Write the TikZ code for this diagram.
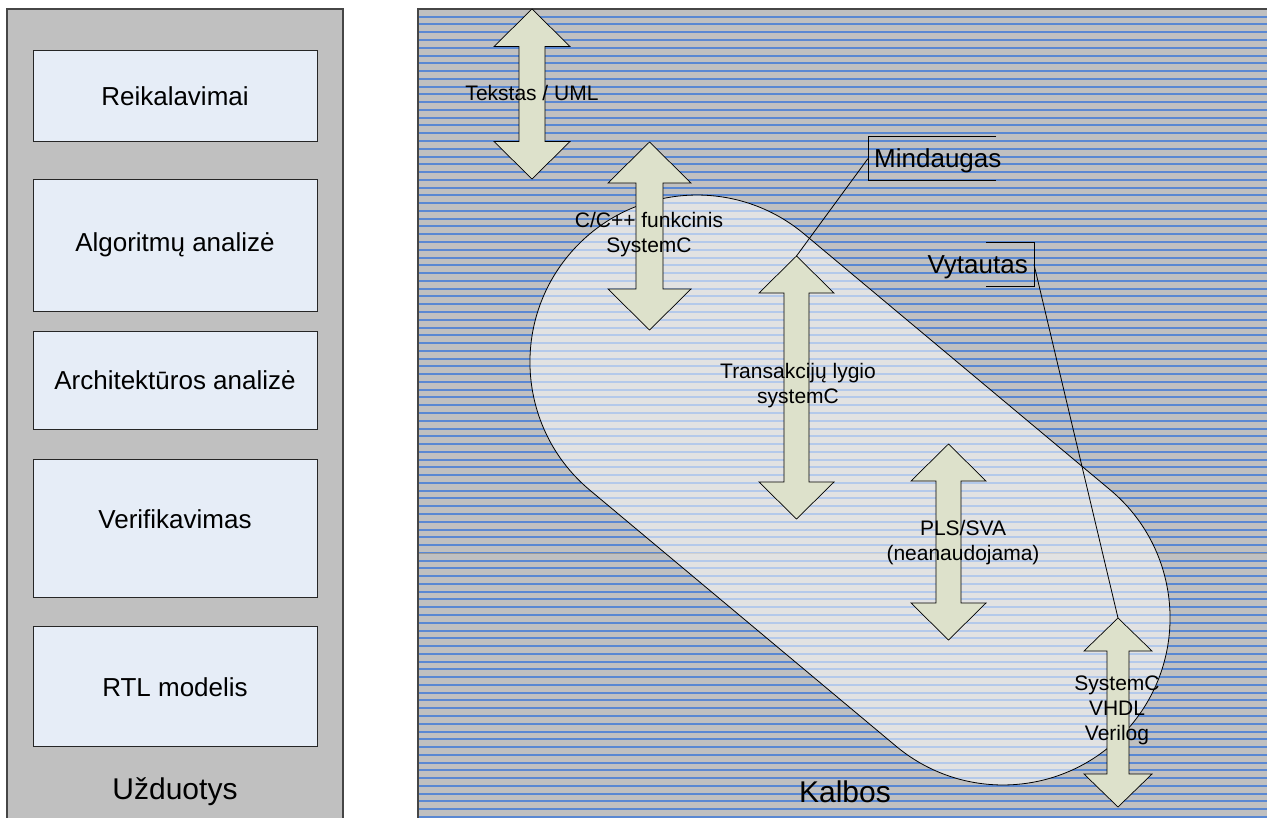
\documentclass[tikz,border=0pt]{standalone}
\usepackage{fontspec}
\setmainfont{Liberation Sans}
\definecolor{panelgrey}{RGB}{192,192,192}
\definecolor{taskblue}{RGB}{230,237,247}
\definecolor{stripeblue}{RGB}{90,136,210}
\definecolor{arrowfill}{RGB}{221,225,203}
\definecolor{edgegrey}{RGB}{70,70,70}
\newcommand\dblarrow[7]{% centre x, top, bottom, head half-width, shaft half-width, head length, name
  \draw[arrowshape] (#1,#2) -- (#1+#4,#2+#6) -- (#1+#5,#2+#6) -- (#1+#5,#3-#6)
    -- (#1+#4,#3-#6) -- (#1,#3) -- (#1-#4,#3-#6) -- (#1-#5,#3-#6)
    -- (#1-#5,#2+#6) -- (#1-#4,#2+#6) -- cycle;
  \coordinate (#7-top) at (#1,#2);
  \coordinate (#7-bot) at (#1,#3);
}
\begin{document}
\begin{tikzpicture}[x=1pt,y=-1pt,
  panel/.style={draw=edgegrey, line width=1.2pt, fill=panelgrey},
  taskbox/.style={draw=black!85, line width=0.8pt, fill=taskblue, minimum width=284pt, inner sep=0pt},
  tasktext/.style={font=\fontsize{26}{31}\selectfont, inner sep=0pt},
  titletext/.style={font=\fontsize{30}{36}\selectfont, inner sep=0pt},
  stripe/.style={draw=stripeblue, line width=2pt},
  capsule/.style={draw=black, line width=0.8pt, fill=white, fill opacity=0.55},
  arrowshape/.style={draw=black, line width=0.7pt, fill=arrowfill},
  lbl/.style={font=\fontsize{21}{25}\selectfont, align=center, inner sep=0pt},
  calltext/.style={font=\fontsize{26}{30}\selectfont, inner xsep=6pt, inner ysep=0pt,
    minimum height=43pt, text height=18.6pt, text depth=0pt},
  callline/.style={draw=black, line width=0.8pt},
]
\useasboundingbox (0,0) rectangle (1267,817);
\fill[white] (0,0) rectangle (1267,817);
\clip (0,0) rectangle (1267,817);

% left column: tasks
\draw[panel] (7,9) rectangle (343,830);
\node[taskbox, minimum height=91pt]  (b1) at (175,95.5) {};
\node[taskbox, minimum height=132pt] (b2) at (175,245) {};
\node[taskbox, minimum height=98pt]  (b3) at (175,380) {};
\node[taskbox, minimum height=138pt] (b4) at (175,528) {};
\node[taskbox, minimum height=120pt] (b5) at (175,686) {};
\node[tasktext] (t1) at (175,96)  {Reikalavimai};
\node[tasktext] (t2) at (175,245) {Algoritmų analizė};
\node[tasktext] (t3) at (175,380) {Architektūros analizė};
\node[tasktext] (t4) at (175,519) {Verifikavimas};
\node[tasktext] (t5) at (175,687) {RTL modelis};
\node[titletext] (tasks) at (175,792) {Užduotys};

% right column: languages, striped background
\begin{scope}
  \clip (418,9) rectangle (1267,817);
  \fill[panelgrey] (418,9) rectangle (1267,817);
  \foreach \i in {0,...,104}
    \draw[stripe] (418,{16.7+7.77*\i}) -- (1267,{16.7+7.77*\i});
  \draw[black!40, line width=0.8pt] (418,553) -- (1267,553);
\end{scope}
\draw[edgegrey, line width=1.2pt] (418,830) -- (418,9) -- (1267,9);

% translucent capsule grouping the lower-level languages
\begin{scope}[shift={(850,490)}, rotate=-39.9]
  \draw[capsule, rounded corners=167pt] (-366.5,-167) rectangle (366.5,167);
\end{scope}

% double-headed arrows
\dblarrow{532}{9}{179}{38}{13}{37.5}{a1}
\dblarrow{649.5}{142}{330}{41.5}{13.5}{41}{a2}
\dblarrow{796.5}{256}{519}{37.5}{12.5}{37}{a3}
\dblarrow{948.5}{444}{640}{37.5}{12.5}{37}{a4}
\dblarrow{1118}{618}{807}{34}{11}{33}{a5}

% labels on the arrows
\node[lbl] (l1) at (532,93)   {Tekstas / UML};
\node[lbl] (l2) at (649,235)  {C/C++ funkcinis\\SystemC};
\node[lbl] (l3) at (798,386)  {Transakcijų lygio\\systemC};
\node[lbl] (l4) at (963,543)  {PLS/SVA\\(neanaudojama)};
\node[lbl] (l5) at (1117,710) {SystemC\\VHDL\\Verilog};

\node[titletext] (langs) at (845,792) {Kalbos};

% callouts
\node[calltext, anchor=west] (mind) at (868,158.5) {Mindaugas};
\draw[callline] ([xshift=128pt]mind.north west) -- (mind.north west) -- (mind.south west) -- ([xshift=128pt]mind.south west);
\draw[callline] (mind.west) -- (a3-top);

\node[calltext, anchor=east] (vyt) at (1034,264.5) {Vytautas};
\draw[callline] ([xshift=-48pt]vyt.north east) -- (vyt.north east) -- (vyt.south east) -- ([xshift=-48pt]vyt.south east);
\draw[callline] (vyt.east) -- (a5-top);
\end{tikzpicture}
\end{document}
